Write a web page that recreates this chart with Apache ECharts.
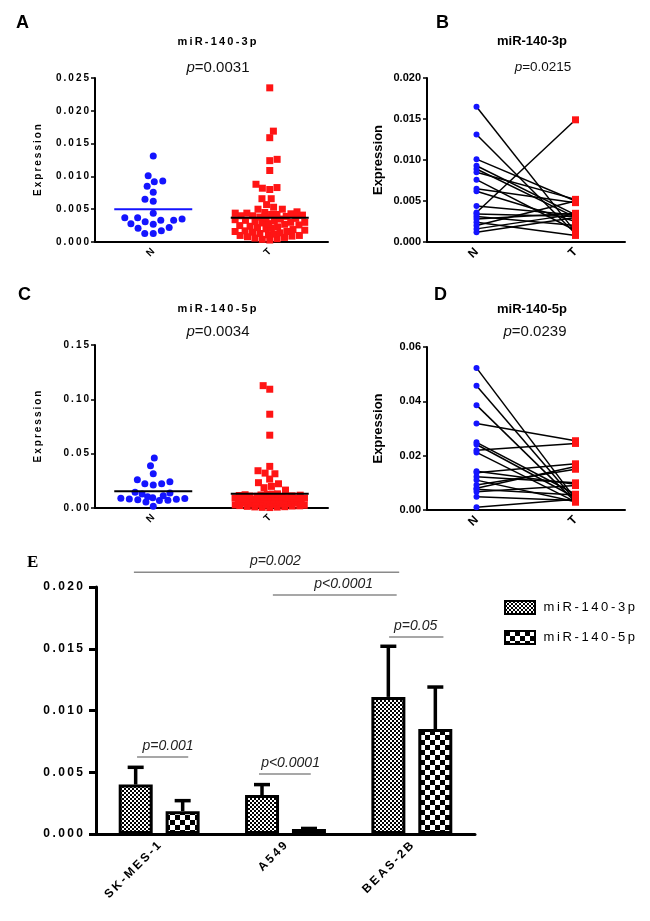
<!DOCTYPE html>
<html>
<head>
<meta charset="utf-8">
<script src="https://cdn.jsdelivr.net/npm/echarts@6/dist/echarts.min.js"></script>
<style>
html, body { margin: 0; padding: 0; background: #fff; }
#chart { width: 650px; height: 921px; }
</style>
</head>
<body>
<div id="chart"></div>
<script>
// ---- data ----
const groups = ['N', 'T'];

// A: miR-140-3p, all samples
const a3pN = [0.0131, 0.0101, 0.0093, 0.0092, 0.0085, 0.0076, 0.0065, 0.0062, 0.0044, 0.0037, 0.0037,
  0.0035, 0.0033, 0.0033, 0.0031, 0.0028, 0.0027, 0.0022, 0.0021, 0.0017, 0.0013, 0.0013];
const a3pT = [0.0235, 0.0169, 0.0159, 0.0126, 0.0124, 0.0109, 0.0088, 0.0083, 0.0082, 0.0080, 0.0066,
  0.0066, 0.0057, 0.0053, 0.0050, 0.0050,
  0.0046, 0.0045, 0.0044, 0.0044, 0.0043, 0.0042, 0.0042, 0.0041, 0.0040, 0.0040,
  0.0039, 0.0038, 0.0037, 0.0036, 0.0035, 0.0034, 0.0033, 0.0032, 0.0031, 0.0030,
  0.0030, 0.0029, 0.0028, 0.0027, 0.0026, 0.0025, 0.0024, 0.0023, 0.0022, 0.0021,
  0.0020, 0.0019, 0.0018, 0.0017, 0.0016, 0.0016, 0.0015, 0.0014, 0.0013, 0.0012,
  0.0011, 0.0010, 0.0010, 0.0009, 0.0008, 0.0007, 0.0006, 0.0005, 0.0004, 0.0003];
const a3pMean = [0.0050, 0.0037];

// C: miR-140-5p, all samples
const c5pN = [0.0459, 0.0389, 0.0315, 0.0260, 0.0242, 0.0223, 0.0223, 0.0211, 0.0144, 0.0138, 0.0128,
  0.0113, 0.0103, 0.0095, 0.0090, 0.0088, 0.0082, 0.0080, 0.0077, 0.0072, 0.0069, 0.0055, 0.0015];
const c5pT = [0.1126, 0.1093, 0.0863, 0.0670, 0.0383, 0.0343, 0.0321, 0.0315, 0.0266, 0.0233, 0.0223,
  0.0199, 0.0187, 0.0165,
  0.0130, 0.0128, 0.0125, 0.0122, 0.0120, 0.0118, 0.0115, 0.0112, 0.0110, 0.0108,
  0.0105, 0.0102, 0.0100, 0.0098, 0.0095, 0.0092, 0.0090, 0.0088, 0.0085, 0.0082,
  0.0080, 0.0078, 0.0075, 0.0072, 0.0070, 0.0068, 0.0065, 0.0062, 0.0060, 0.0058,
  0.0055, 0.0052, 0.0050, 0.0048, 0.0045, 0.0042, 0.0040, 0.0038, 0.0035, 0.0032,
  0.0030, 0.0028, 0.0025, 0.0022, 0.0020, 0.0018, 0.0015, 0.0012, 0.0010, 0.0008, 0.0006, 0.0004];
const c5pMean = [0.0153, 0.0132];

// B: miR-140-3p, paired N / T
const b3pN = [0.0165, 0.0131, 0.0101, 0.0093, 0.0089, 0.0085, 0.0076, 0.0065, 0.0062,
  0.0044, 0.0036, 0.0034, 0.0031, 0.0028, 0.0024, 0.0020, 0.0016, 0.0012];
const b3pT = [0.0012, 0.0010, 0.0050, 0.0033, 0.0030, 0.0052, 0.0014, 0.0048, 0.0025,
  0.0033, 0.0149, 0.0031, 0.0020, 0.0035, 0.0008, 0.0050, 0.0034, 0.0030];

// D: miR-140-5p, paired N / T
const d5pN = [0.0523, 0.0457, 0.0386, 0.0318, 0.0249, 0.0241, 0.0220, 0.0212, 0.0143,
  0.0137, 0.0122, 0.0110, 0.0092, 0.0080, 0.0076, 0.0067, 0.0049, 0.0010];
const d5pT = [0.0040, 0.0035, 0.0030, 0.0255, 0.0058, 0.0045, 0.0245, 0.0030, 0.0095,
  0.0170, 0.0100, 0.0030, 0.0150, 0.0160, 0.0055, 0.0090, 0.0035, 0.0040];

// E: cell lines, mean and top of error bar
const cellLines = ['SK-MES-1', 'A549', 'BEAS-2B'];
const e3p = [0.0040, 0.00315, 0.0111];
const e3pTop = [0.0054, 0.0040, 0.0152];
const e5p = [0.00185, 0.0004, 0.0085];
const e5pTop = [0.0027, 0.00045, 0.0119];

// E: significance brackets (x in category units, 0..3)
const brkLabels = ['p=0.002', 'p<0.0001', 'p=0.05', 'p=0.001', 'p<0.0001'];
const brkX1 = [0.30, 1.40, 2.32, 0.325, 1.29];
const brkX2 = [2.40, 2.38, 2.75, 0.73, 1.70];
const brkY = [0.0212, 0.01935, 0.01595, 0.00623, 0.00486];
const brkTextX = [1.42, 1.96, 2.53, 0.57, 1.54];

// ---- helpers ----
const FONT = 'Arial, "Liberation Sans", sans-serif';
const BLUE = '#1414ff';
const RED = '#ff1414';
const spaced = s => String(s).split('').join('\u2009');

function checker(cell) {
  const c = document.createElement('canvas');
  c.width = c.height = cell * 2;
  const g = c.getContext('2d');
  g.fillStyle = '#fff';
  g.fillRect(0, 0, cell * 2, cell * 2);
  g.fillStyle = '#000';
  g.fillRect(0, 0, cell, cell);
  g.fillRect(cell, cell, cell, cell);
  return c;
}

// beeswarm: lowest value first, each dot goes to the free spot nearest the centre;
// when the column gets too wide the spacing is squeezed (dots overlap, like GraphPad)
function swarm(values, cat, axisMax, plotH, d, maxHalf) {
  const placed = [];
  const out = [];
  values.slice().sort((a, b) => a - b).forEach((v, k) => {
    const y = v / axisMax * plotH;
    let dd = d, x = null;
    while (x === null) {
      const cands = [0];
      placed.forEach(p => {
        const dy = Math.abs(p.y - y);
        if (dy < dd) {
          const w = Math.sqrt(dd * dd - dy * dy);
          cands.push(p.x + w, p.x - w);
        }
      });
      cands.sort((a, b) => Math.abs(a) - Math.abs(b) || (k % 2 ? a - b : b - a));
      for (const c of cands) {
        if (Math.abs(c) > maxHalf) break;
        if (placed.every(p => (p.x - c) ** 2 + (p.y - y) ** 2 >= dd * dd - 1e-6)) { x = c; break; }
      }
      dd *= 0.85;
    }
    placed.push({ x: x, y: y });
    out.push({ value: [cat, v], symbolOffset: [x, 0] });
  });
  return out;
}

function catAxis(grid, fs, spacedText) {
  return {
    type: 'category', gridIndex: grid, data: groups,
    axisLine: { lineStyle: { color: '#000', width: 2 } },
    axisTick: { alignWithLabel: true, length: 4, lineStyle: { color: '#000', width: 1.5 } },
    axisLabel: {
      rotate: 45, margin: 8, color: '#000', fontWeight: 'bold', fontSize: fs, fontFamily: FONT,
      formatter: v => spacedText ? spaced(v) : v
    }
  };
}

function valAxis(grid, max, interval, dec, fs, spacedText, nameFs, nameGap) {
  return {
    type: 'value', gridIndex: grid, min: 0, max: max, interval: interval,
    name: spacedText ? spaced('Expression') : 'Expression',
    nameLocation: 'middle', nameGap: nameGap, nameRotate: 90,
    nameTextStyle: { color: '#000', fontWeight: 'bold', fontSize: nameFs, fontFamily: FONT },
    splitLine: { show: false },
    axisLine: { show: true, lineStyle: { color: '#000', width: 2 } },
    axisTick: { show: true, length: 4, lineStyle: { color: '#000', width: 1.5 } },
    axisLabel: {
      margin: 6, color: '#000', fontWeight: 'bold', fontSize: fs, fontFamily: FONT,
      formatter: v => spacedText ? spaced(v.toFixed(dec)) : v.toFixed(dec)
    }
  };
}

function meanLine(axis, means, colors) {
  return {
    type: 'custom', xAxisIndex: axis, yAxisIndex: axis, z: 5,
    data: means.map((m, i) => [i, m]),
    renderItem: (params, api) => {
      const p = api.coord([api.value(0), api.value(1)]);
      return {
        type: 'line',
        shape: { x1: p[0] - 39, y1: p[1], x2: p[0] + 39, y2: p[1] },
        style: { stroke: colors[params.dataIndex], lineWidth: 2 }
      };
    }
  };
}

function pairLines(axis, nVals, tVals) {
  return {
    type: 'custom', xAxisIndex: axis, yAxisIndex: axis, z: 2,
    data: nVals.map((n, i) => [n, tVals[i]]),
    renderItem: (params, api) => {
      const p1 = api.coord([0, api.value(0)]);
      const p2 = api.coord([1, api.value(1)]);
      return {
        type: 'line',
        shape: { x1: p1[0], y1: p1[1], x2: p2[0], y2: p2[1] },
        style: { stroke: '#000', lineWidth: 1.5 }
      };
    }
  };
}

function dots(axis, data, shape, size, color) {
  return {
    type: 'scatter', xAxisIndex: axis, yAxisIndex: axis, z: 3,
    symbol: shape, symbolSize: size, data: data,
    itemStyle: { color: color, opacity: 1 }
  };
}

function errBars(vals, tops, offset) {
  return {
    type: 'custom', xAxisIndex: 4, yAxisIndex: 4, z: 1,
    data: vals.map((v, i) => [i, v, tops[i]]),
    renderItem: (params, api) => {
      const p = api.coord([api.value(0), api.value(1)]);
      const t = api.coord([api.value(0), api.value(2)]);
      const x = p[0] + offset;
      return {
        type: 'group', children: [
          { type: 'line', shape: { x1: x, y1: p[1], x2: x, y2: t[1] }, style: { stroke: '#000', lineWidth: 3.5 } },
          { type: 'line', shape: { x1: x - 8, y1: t[1], x2: x + 8, y2: t[1] }, style: { stroke: '#000', lineWidth: 3.5 } }
        ]
      };
    }
  };
}

const titleText = (txt, x, y, fs, sp) => ({
  text: sp ? spaced(txt) : txt, left: x, top: y, textAlign: 'center',
  textStyle: { fontSize: fs, fontWeight: 'bold', color: '#000', fontFamily: FONT }
});
const pText = (val, x, y, fs) => ({
  text: '{i|p}=' + val, left: x, top: y, textAlign: 'center',
  textStyle: {
    fontSize: fs, fontWeight: 'normal', color: '#111', fontFamily: FONT,
    rich: { i: { fontStyle: 'italic', fontSize: fs, color: '#111', fontFamily: FONT } }
  }
});
const letter = (txt, x, y) => ({
  text: txt, left: x, top: y,
  textStyle: { fontSize: 18, fontWeight: 'bold', color: '#000', fontFamily: FONT }
});

const pat3 = { image: checker(2), repeat: 'repeat' };
const pat5 = { image: checker(5), repeat: 'repeat' };

const chart = echarts.init(document.getElementById('chart'));

chart.setOption({
  animation: false,
  backgroundColor: '#fff',
  title: [
    letter('A', 11, 9), titleText('miR-140-3p', 212, 31, 11, true), pText('0.0031', 213, 55, 15),
    letter('B', 431, 9), titleText('miR-140-3p', 527, 30, 13, false), pText('0.0215', 538, 55, 13.5),
    letter('C', 13, 281), titleText('miR-140-5p', 212, 298, 11, true), pText('0.0034', 213, 319, 15),
    letter('D', 429, 281), titleText('miR-140-5p', 527, 298, 13, false), pText('0.0239', 530, 319, 15),
    {
      text: 'E', left: 22, top: 549,
      textStyle: { fontSize: 17, fontWeight: 'bold', color: '#000', fontFamily: '"Liberation Serif", "DejaVu Serif", serif' }
    }
  ],
  legend: {
    left: 499, top: 595, orient: 'vertical', itemWidth: 30, itemHeight: 13, itemGap: 15,
    icon: 'rect',
    data: ['miR-140-3p', 'miR-140-5p'],
    formatter: name => ' ' + spaced(name),
    textStyle: { fontSize: 13, color: '#000', fontFamily: FONT }
  },
  grid: [
    { left: 95, top: 78, width: 233, height: 164 },
    { left: 427, top: 78, width: 198, height: 164 },
    { left: 95, top: 345, width: 233, height: 163 },
    { left: 427, top: 347, width: 198, height: 163 },
    { left: 96, top: 587, width: 379, height: 247 }
  ],
  xAxis: [
    catAxis(0, 10, true),
    catAxis(1, 12, false),
    catAxis(2, 10, true),
    catAxis(3, 12, false),
    {
      type: 'category', gridIndex: 4, data: cellLines,
      axisLine: { lineStyle: { color: '#000', width: 3 } },
      axisTick: { alignWithLabel: true, length: 6, lineStyle: { color: '#000', width: 2 } },
      axisLabel: {
        rotate: 45, margin: 10, color: '#000', fontWeight: 'bold', fontSize: 12, fontFamily: FONT,
        formatter: v => spaced(v)
      }
    },
    { type: 'value', gridIndex: 4, min: 0, max: 3, show: false }
  ],
  yAxis: [
    valAxis(0, 0.025, 0.005, 3, 10, true, 10, 52),
    valAxis(1, 0.02, 0.005, 3, 11, false, 13, 42),
    valAxis(2, 0.15, 0.05, 2, 10, true, 10, 52),
    valAxis(3, 0.06, 0.02, 2, 11, false, 13, 42),
    {
      type: 'value', gridIndex: 4, min: 0, max: 0.02, interval: 0.005,
      splitLine: { show: false },
      axisLine: { show: true, lineStyle: { color: '#000', width: 3 } },
      axisTick: { show: true, length: 7, lineStyle: { color: '#000', width: 3 } },
      axisLabel: {
        margin: 13, color: '#000', fontWeight: 'bold', fontSize: 12, fontFamily: FONT,
        formatter: v => spaced(v.toFixed(3))
      }
    }
  ],
  series: [
    // A
    dots(0, swarm(a3pN, 0, 0.025, 164, 8.5, 30), 'circle', 7, BLUE),
    dots(0, swarm(a3pT, 1, 0.025, 164, 7.5, 35), 'rect', 7, RED),
    meanLine(0, a3pMean, [BLUE, '#000']),
    // B
    pairLines(1, b3pN, b3pT),
    dots(1, b3pN.map(v => [0, v]), 'circle', 6, BLUE),
    dots(1, b3pT.map(v => [1, v]), 'rect', 7, RED),
    // C
    dots(2, swarm(c5pN, 0, 0.15, 163, 8.5, 36), 'circle', 7, BLUE),
    dots(2, swarm(c5pT, 1, 0.15, 163, 7.5, 35), 'rect', 7, RED),
    meanLine(2, c5pMean, ['#000', '#000']),
    // D
    pairLines(3, d5pN, d5pT),
    dots(3, d5pN.map(v => [0, v]), 'circle', 6, BLUE),
    dots(3, d5pT.map(v => [1, v]), 'rect', 7, RED),
    // E
    {
      name: 'miR-140-3p', type: 'bar', xAxisIndex: 4, yAxisIndex: 4, z: 2,
      barWidth: 34, barGap: '38%', data: e3p,
      itemStyle: { color: pat3, borderColor: '#000', borderWidth: 3 }
    },
    {
      name: 'miR-140-5p', type: 'bar', xAxisIndex: 4, yAxisIndex: 4, z: 2,
      barWidth: 34, barGap: '38%', data: e5p,
      itemStyle: { color: pat5, borderColor: '#000', borderWidth: 3 }
    },
    errBars(e3p, e3pTop, -23.5),
    errBars(e5p, e5pTop, 23.5),
    {
      type: 'custom', xAxisIndex: 5, yAxisIndex: 4, z: 3,
      data: brkX1.map((x, i) => [x, brkX2[i], brkY[i], brkTextX[i]]),
      renderItem: (params, api) => {
        const p1 = api.coord([api.value(0), api.value(2)]);
        const p2 = api.coord([api.value(1), api.value(2)]);
        const t = api.coord([api.value(3), api.value(2)]);
        return {
          type: 'group', children: [
            { type: 'line', shape: { x1: p1[0], y1: p1[1], x2: p2[0], y2: p1[1] }, style: { stroke: '#8a8a8a', lineWidth: 1.5 } },
            {
              type: 'text', x: t[0], y: p1[1] - 4,
              style: { text: brkLabels[params.dataIndex], font: 'italic 14px ' + FONT, fill: '#222', align: 'center', verticalAlign: 'bottom' }
            }
          ]
        };
      }
    }
  ]
});
</script>
</body>
</html>
